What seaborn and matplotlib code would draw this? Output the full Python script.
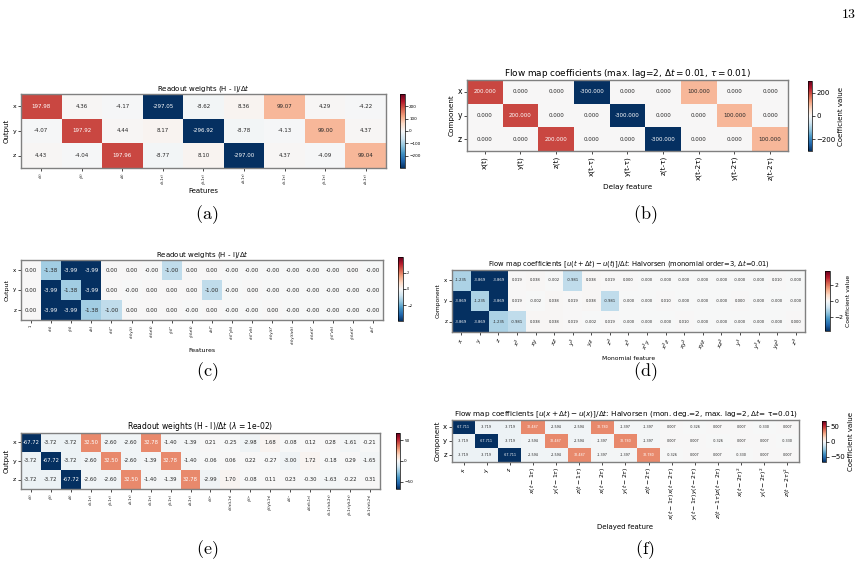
import numpy as np
import pandas as pd
import matplotlib
matplotlib.use("Agg")
import matplotlib.pyplot as plt
import seaborn as sns

W, H = 862, 566
components = ['x', 'y', 'z']

# (a) readout weights, 3 x 9
a_features = ['x(t)', 'y(t)', 'z(t)', 'x(t-1τ)', 'y(t-1τ)', 'z(t-1τ)',
              'x(t-2τ)', 'y(t-2τ)', 'z(t-2τ)']
a_x = [197.98, 4.36, -4.17, -297.05, -8.62, 8.36, 99.07, 4.29, -4.22]
a_y = [-4.07, 197.92, 4.44, 8.17, -296.92, -8.78, -4.13, 99.00, 4.37]
a_z = [4.43, -4.04, 197.96, -8.77, 8.10, -297.00, 4.37, -4.09, 99.04]

# (b) flow map coefficients, 3 x 9
b_features = ['x(t)', 'y(t)', 'z(t)', 'x(t-τ)', 'y(t-τ)', 'z(t-τ)',
              'x(t-2τ)', 'y(t-2τ)', 'z(t-2τ)']
b_x = [200.0, 0.0, 0.0, -300.0, 0.0, 0.0, 100.0, 0.0, 0.0]
b_y = [0.0, 200.0, 0.0, 0.0, -300.0, 0.0, 0.0, 100.0, 0.0]
b_z = [0.0, 0.0, 200.0, 0.0, 0.0, -300.0, 0.0, 0.0, 100.0]

# (c) readout weights, polynomial features, 3 x 18
c_features = ['1', 'x(t)', 'y(t)', 'z(t)', 'x(t)²', 'x(t)y(t)', 'x(t)z(t)',
              'y(t)²', 'y(t)z(t)', 'z(t)²', 'x(t)²y(t)', 'x(t)²z(t)',
              'x(t)y(t)²', 'x(t)y(t)z(t)', 'x(t)z(t)²', 'y(t)²z(t)',
              'y(t)z(t)²', 'z(t)³']
c_x = [0.00, -1.38, -3.99, -3.99, 0.00, 0.00, -0.001, -1.00, 0.00, 0.00,
       -0.001, -0.001, -0.001, -0.001, -0.001, -0.001, 0.00, -0.001]
c_y = [0.00, -3.99, -1.38, -3.99, 0.00, -0.001, 0.00, 0.00, 0.00, -1.00,
       -0.001, 0.00, -0.001, -0.001, -0.001, -0.001, -0.001, -0.001]
c_z = [0.00, -3.99, -3.99, -1.38, -1.00, 0.00, 0.00, 0.00, -0.001, 0.00,
       -0.001, -0.001, 0.00, -0.001, -0.001, -0.001, -0.001, -0.001]

# (d) flow map coefficients, monomials up to order 3, 3 x 19
d_features = ['$x$', '$y$', '$z$', '$x^2$', '$xy$', '$xz$', '$y^2$', '$yz$',
              '$z^2$', '$x^3$', '$x^2y$', '$x^2z$', '$xy^2$', '$xyz$',
              '$xz^2$', '$y^3$', '$y^2z$', '$yz^2$', '$z^3$']
d_x = [-1.235, -3.869, -3.869, 0.019, 0.038, -0.002, -0.981, 0.038, 0.019,
       0.000, -0.0001, -0.0001, -0.0001, -0.0001, -0.0001, -0.0001, -0.0001,
       0.010, -0.0001]
d_y = [-3.869, -1.235, -3.869, 0.019, -0.002, 0.038, 0.019, 0.038, -0.981,
       -0.0001, -0.0001, 0.010, -0.0001, -0.0001, -0.0001, 0.000, -0.0001,
       -0.0001, -0.0001]
d_z = [-3.869, -3.869, -1.235, -0.981, 0.038, 0.038, 0.019, -0.002, 0.019,
       -0.0001, -0.0001, -0.0001, 0.010, -0.0001, -0.0001, -0.0001, -0.0001,
       -0.0001, 0.000]

# (e) readout weights with ridge, 3 x 18
e_features = ['x(t)', 'y(t)', 'z(t)', 'x(t-1τ)', 'y(t-1τ)', 'z(t-1τ)',
              'x(t-2τ)', 'y(t-2τ)', 'z(t-2τ)', 'x(t)²', 'x(t)x(t-1τ)',
              'y(t)²', 'y(t)y(t-1τ)', 'z(t)²', 'z(t)z(t-1τ)',
              'x(t-1τ)x(t-2τ)', 'y(t-1τ)y(t-2τ)', 'z(t-1τ)z(t-2τ)']
e_x = [-67.72, -3.72, -3.72, 32.50, -2.60, -2.60, 32.78, -1.40, -1.39,
       0.21, -0.25, -2.98, 1.68, -0.08, 0.12, 0.28, -1.61, -0.21]
e_y = [-3.72, -67.72, -3.72, -2.60, 32.50, -2.60, -1.39, 32.78, -1.40,
       -0.06, 0.06, 0.22, -0.27, -3.00, 1.72, -0.18, 0.29, -1.65]
e_z = [-3.72, -3.72, -67.72, -2.60, -2.60, 32.50, -1.40, -1.39, 32.78,
       -2.99, 1.70, -0.08, 0.11, 0.23, -0.30, -1.63, -0.22, 0.31]

# (f) flow map coefficients, delayed monomials, 3 x 15
f_features = ['$x$', '$y$', '$z$', r'$x(t-1\tau)$', r'$y(t-1\tau)$',
              r'$z(t-1\tau)$', r'$x(t-2\tau)$', r'$y(t-2\tau)$',
              r'$z(t-2\tau)$', r'$x(t-1\tau)x(t-2\tau)$',
              r'$y(t-1\tau)y(t-2\tau)$', r'$z(t-1\tau)z(t-2\tau)$',
              r'$x(t-2\tau)^2$', r'$y(t-2\tau)^2$', r'$z(t-2\tau)^2$']
f_x = [-67.711, -3.719, -3.719, 32.487, -2.594, -2.594, 32.780, -1.397,
       -1.397, 0.007, -0.326, 0.007, 0.007, -0.330, 0.007]
f_y = [-3.719, -67.711, -3.719, -2.594, 32.487, -2.594, -1.397, 32.780,
       -1.397, 0.007, 0.007, -0.326, 0.007, 0.007, -0.330]
f_z = [-3.719, -3.719, -67.711, -2.594, -2.594, 32.487, -1.397, -1.397,
       32.780, -0.326, 0.007, 0.007, -0.330, 0.007, 0.007]


def box(x0, y0, x1, y1):
    # pixel box (top-left origin) -> figure fraction
    return [x0 / W, 1 - y1 / H, (x1 - x0) / W, (y1 - y0) / H]


def heat(hbox, cbox, rows, feats, title, fmt, annot_fs, title_fs, xtick_fs,
         ytick_fs, xrot=90, xlabel=None, ylabel=None, label_fs=5,
         cticks=None, cfs=3, clabel=None):
    df = pd.DataFrame(np.array(rows), index=components, columns=feats)
    vmax = np.abs(df.values).max()
    ax = fig.add_axes(box(*hbox))
    cax = fig.add_axes(box(*cbox))
    sns.heatmap(df, ax=ax, cbar_ax=cax, cmap='RdBu_r', center=0,
                vmin=-vmax, vmax=vmax, annot=True, fmt=fmt,
                annot_kws={'size': annot_fs}, xticklabels=feats,
                yticklabels=components)
    for sp in ax.spines.values():
        sp.set_visible(True)
        sp.set_color('0.5')
        sp.set_linewidth(1.0)
    ax.set_title(title, fontsize=title_fs, pad=2)
    ax.set_xticklabels(feats, rotation=xrot, fontsize=xtick_fs)
    ax.set_yticklabels(components, rotation=0, fontsize=ytick_fs)
    ax.tick_params(length=2, width=0.5, pad=1.5)
    ax.set_xlabel(xlabel if xlabel else '', fontsize=label_fs, labelpad=3)
    ax.set_ylabel(ylabel if ylabel else '', fontsize=label_fs, labelpad=2)
    cbar = ax.collections[0].colorbar
    if cticks is not None:
        cbar.set_ticks(cticks)
    cax.tick_params(labelsize=cfs, length=2, width=0.5, pad=1)
    cbar.outline.set_linewidth(0.5)
    if clabel:
        cax.set_ylabel(clabel, fontsize=cfs, labelpad=2)
    return ax


fig = plt.figure(figsize=(W / 100, H / 100), dpi=100)

heat((21, 94, 386, 168), (400, 94, 405, 168), [a_x, a_y, a_z], a_features,
     r'Readout weights (H - I)/$\Delta t$', '.2f', 4, 5, 2.3, 4.5,
     xlabel='Features', ylabel='Output', label_fs=5,
     cticks=[-200, -100, 0, 100, 200], cfs=3)

heat((467, 80, 788, 151), (808, 81, 812, 151), [b_x, b_y, b_z], b_features,
     r'Flow map coefficients (max. lag=2, $\Delta t = 0.01$, $\tau = 0.01$)',
     '.3f', 4, 6.4, 5.2, 5.5, xlabel='Delay feature', ylabel='Component',
     label_fs=5.2, cticks=[-200, 0, 200], cfs=5, clabel='Coefficient value')

heat((21, 260, 383, 320), (398, 257, 403, 321), [c_x, c_y, c_z], c_features,
     r'Readout weights (H - I)/$\Delta t$', '.2f', 4, 5, 2.6, 4,
     xlabel='Features', ylabel='Output', label_fs=4.5,
     cticks=[-2, 0, 2], cfs=2.5)

heat((452, 270, 805, 332), (825, 271, 830, 331), [d_x, d_y, d_z], d_features,
     r'Flow map coefficients $[u(t+\Delta t) - u(t)]/\Delta t$: Halvorsen '
     r'(monomial order=3, $\Delta t$=0.01)',
     '.3f', 2.7, 4.85, 4, 4, xrot=65, xlabel='Monomial feature',
     ylabel='Component', label_fs=4.3, cticks=[-2, 0, 2], cfs=4.4,
     clabel='Coefficient value')

heat((21, 433, 380, 489), (396, 433, 400, 489), [e_x, e_y, e_z], e_features,
     r'Readout weights (H - I)/$\Delta t$ ($\lambda$ = 1e-02)', '.2f', 3.8,
     5.5, 2.3, 4.5, ylabel='Output', label_fs=5,
     cticks=[-50, 0, 50], cfs=3)

heat((452, 420, 799, 462), (822, 421, 826, 462), [f_x, f_y, f_z], f_features,
     r'Flow map coefficients $[u(x+\Delta t) - u(x)]/\Delta t$: Halvorsen '
     r'(mon. deg.=2, max. lag=2, $\Delta t$= τ=0.01)',
     '.3f', 2.4, 5.2, 4.4, 5, xlabel='Delayed feature', ylabel='Component',
     label_fs=5, cticks=[-50, 0, 50], cfs=5, clabel='Coefficient value')

# sub-figure captions and page number
captions = ['(a)', '(b)', '(c)', '(d)', '(e)', '(f)']
cap_xy = [(207, 215), (645, 215), (207, 372), (645, 372), (207, 550), (645, 550)]
for lab, (cx, cy) in zip(captions, cap_xy):
    fig.text(cx / W, 1 - cy / H, r'$\mathrm{' + lab + '}$', fontsize=13,
             ha='center', va='center', math_fontfamily='cm')
fig.text(849 / W, 1 - 14 / H, r'$\mathrm{13}$', fontsize=10, ha='center',
         va='center', math_fontfamily='cm')

fig.savefig('out.png', dpi=100)
